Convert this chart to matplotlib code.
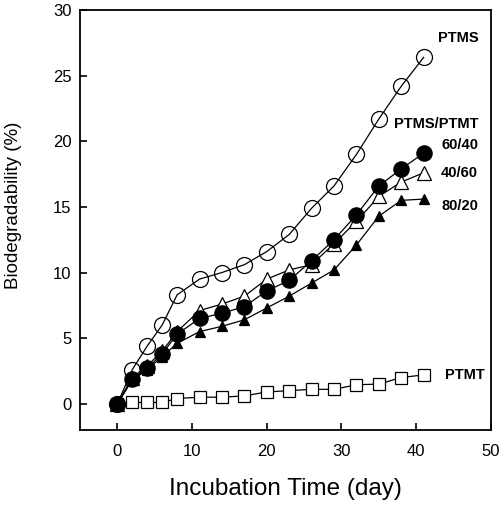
import numpy as np
import matplotlib as mpl
mpl.use('Agg')
import matplotlib.pyplot as plt

days = [0, 2, 4, 6, 8, 11, 14, 17, 20, 23, 26, 29, 32, 35, 38, 41]
ptms  = [0, 2.6, 4.4, 6.0, 8.3, 9.5, 10.0, 10.6, 11.6, 12.9, 14.9, 16.6, 19.0, 21.7, 24.2, 26.4]
b6040 = [0, 1.9, 2.7, 3.8, 5.3, 6.5, 6.9, 7.4, 8.6, 9.4, 10.9, 12.5, 14.4, 16.6, 17.9, 19.1]
b4060 = [0, 2.0, 2.9, 4.0, 5.5, 7.1, 7.6, 8.2, 9.5, 10.2, 10.6, 12.2, 13.9, 15.8, 16.9, 17.6]
b8020 = [0, 1.8, 2.6, 3.6, 4.6, 5.5, 5.9, 6.4, 7.3, 8.2, 9.2, 10.2, 12.1, 14.3, 15.5, 15.6]
ptmt  = [0, 0.1, 0.1, 0.1, 0.4, 0.5, 0.5, 0.6, 0.9, 1.0, 1.1, 1.1, 1.45, 1.5, 2.0, 2.2]

plt.rcParams['font.family'] = ['Liberation Sans', 'DejaVu Sans']

fig = plt.figure(figsize=(5.03, 5.05), dpi=100)
ax = fig.add_axes([0.159, 0.1485, 0.817, 0.8315])

kw = dict(color='black', lw=0.9, markeredgecolor='black', markeredgewidth=0.9)
ax.plot(days, ptmt, marker='s', ms=8.5, markerfacecolor='white', **kw)
ax.plot(days, b8020, marker='^', ms=6.5, markerfacecolor='black', **kw)
ax.plot(days, b4060, marker='^', ms=10, markerfacecolor='white', **kw)
ax.plot(days, b6040, marker='o', ms=11, markerfacecolor='black', **kw)
ax.plot(days, ptms, marker='o', ms=11.5, markerfacecolor='none', **kw)

tkw = dict(fontsize=10.5, fontweight='bold', ha='right', va='center')
ax.text(48.3, 27.9, 'PTMS', **tkw)
ax.text(48.3, 21.3, 'PTMS/PTMT', **tkw)
ax.text(48.3, 19.7, '60/40', **tkw)
ax.text(48.3, 17.6, '40/60', **tkw)
ax.text(48.3, 15.1, '80/20', **tkw)
ax.text(49.2, 2.2, 'PTMT', **tkw)

ax.set_xlim(-5, 50)
ax.set_ylim(-2, 30)
ax.set_xticks([0, 10, 20, 30, 40, 50])
ax.set_yticks([0, 5, 10, 15, 20, 25, 30])
ax.tick_params(direction='in', length=5, width=1.2, labelsize=12)
ax.tick_params(axis='x', pad=10)
ax.tick_params(axis='y', pad=6)
for s in ax.spines.values():
    s.set_linewidth(1.3)

ax.set_xlabel('Incubation Time (day)', fontsize=17.5, labelpad=14)
ax.set_ylabel('Biodegradability (%)', fontsize=13.5)
ax.yaxis.set_label_coords(-0.14, 0.535)

plt.savefig('out.png', dpi=100)
plt.close()
